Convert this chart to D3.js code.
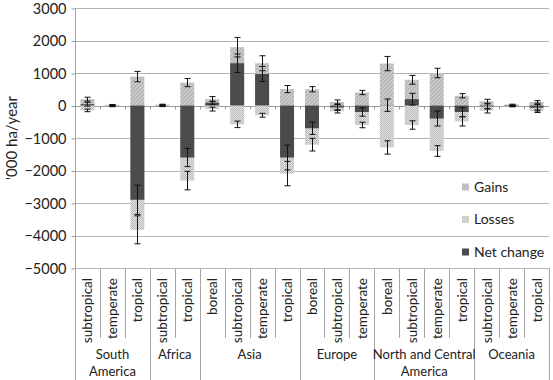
<!DOCTYPE html>
<html>
<head>
<meta charset="utf-8">
<script src="https://cdn.jsdelivr.net/npm/d3@7"></script>
<style>
  body { margin: 0; background: #fff; }
  svg text { font-family: Lato, "Open Sans", sans-serif; fill: #222; }
</style>
</head>
<body>
<div id="chart"></div>
<script>
// Forest area change per region and climatic zone ('000 ha/year)
const regions = ["South America", "South America", "South America", "Africa", "Africa",
    "Asia", "Asia", "Asia", "Asia", "Europe", "Europe", "Europe",
    "North and Central America", "North and Central America", "North and Central America", "North and Central America",
    "Oceania", "Oceania", "Oceania"];
const zones = ["subtropical", "temperate", "tropical", "subtropical", "tropical",
    "boreal", "subtropical", "temperate", "tropical", "boreal", "subtropical", "temperate",
    "boreal", "subtropical", "temperate", "tropical",
    "subtropical", "temperate", "tropical"];
const gains     = [195, 20, 890, 25, 705, 195, 1795, 1300, 505, 500, 110, 400, 1290, 790, 1000, 300, 130, 30, 110];
const gainsErr  = [60, 12, 160, 15, 125, 80, 300, 230, 110, 80, 60, 65, 220, 135, 145, 65, 60, 10, 40];
const losses    = [-150, -25, -3825, -20, -2310, -110, -580, -300, -2095, -1205, -180, -600, -1290, -600, -1400, -490, -160, -30, -175];
const lossesErr = [40, 12, 430, 15, 285, 60, 100, 60, 375, 195, 50, 85, 205, 130, 165, 140, 70, 10, 40];
const netChange = [40, -5, -2900, 5, -1600, 85, 1300, 970, -1600, -700, -60, -200, 10, 195, -400, -200, -30, -15, -70];
const netErr    = [60, 15, 450, 20, 280, 50, 285, 230, 380, 190, 90, 130, 190, 180, 230, 140, 80, 15, 100];
const yTicks = [3000, 2000, 1000, 0, -1000, -2000, -3000, -4000, -5000];
const groupLabels = {
    "South America": ["South", "America"],
    "Africa": ["Africa"],
    "Asia": ["Asia"],
    "Europe": ["Europe"],
    "North and Central America": ["North and Central", "America"],
    "Oceania": ["Oceania"]
};
const legendItems = ["Gains", "Losses", "Net change"];

const W = 553, H = 380;
const plot = {left: 75, right: 549, top: 8, bottom: 268};

let svg = d3.select("#chart").append("svg")
    .attr("width", W)
    .attr("height", H);

// fill patterns
let defs = svg.append("defs");
let pg = defs.append("pattern")
    .attr("id", "gainsFill")
    .attr("patternUnits", "userSpaceOnUse")
    .attr("width", 4).attr("height", 4);
pg.append("rect").attr("width", 4).attr("height", 4).attr("fill", "#bababa");
pg.append("path").attr("d", "M-1,1 L1,-1 M0,4 L4,0 M3,5 L5,3")
    .attr("stroke", "#d4d4d4").attr("stroke-width", 1);

let pl = defs.append("pattern")
    .attr("id", "lossFill")
    .attr("patternUnits", "userSpaceOnUse")
    .attr("width", 2).attr("height", 2);
pl.append("rect").attr("width", 2).attr("height", 2).attr("fill", "#e0e0e0");
pl.append("rect").attr("width", 1).attr("height", 1).attr("fill", "#bdbdbd");
pl.append("rect").attr("x", 1).attr("y", 1).attr("width", 1).attr("height", 1).attr("fill", "#bdbdbd");

const fills = {"Gains": "url(#gainsFill)", "Losses": "url(#lossFill)", "Net change": "#4b4b4b"};

// Scales
let idx = d3.range(zones.length);
let x = d3.scaleBand()
    .domain(idx)
    .range([plot.left, plot.right])
    .padding(0);
let y = d3.scaleLinear()
    .domain([-5000, 3000])
    .range([plot.bottom, plot.top]);

let barW = x.bandwidth() * 0.56;
let cx = i => x(i) + x.bandwidth() / 2;

// gridlines
svg.append("g")
    .selectAll("line")
    .data(yTicks)
    .join("line")
    .attr("x1", plot.left)
    .attr("x2", plot.right)
    .attr("y1", d => Math.round(y(d)) + 0.5)
    .attr("y2", d => Math.round(y(d)) + 0.5)
    .attr("stroke", "#b3b3b3")
    .attr("stroke-width", 1);

// y axis
let yAxisG = svg.append("g")
    .attr("transform", `translate(${plot.left + 0.5},0.5)`)
    .call(d3.axisLeft(y).tickValues(yTicks).tickSize(4).tickPadding(5)
        .tickFormat(d => d < 0 ? "\u2212" + Math.abs(d) : d));
yAxisG.select(".domain").remove();
yAxisG.selectAll(".tick line").attr("stroke", "#999");
yAxisG.selectAll(".tick text")
    .style("font-size", "14.5px")
    .attr("fill", "#222");

svg.append("line")
    .attr("x1", plot.left + 0.5).attr("x2", plot.left + 0.5)
    .attr("y1", plot.top).attr("y2", H)
    .attr("stroke", "#a6a6a6");

svg.append("text")
    .attr("transform", `translate(17,${(plot.top + plot.bottom) / 2}) rotate(-90)`)
    .attr("text-anchor", "middle")
    .style("font-size", "15px")
    .text("'000 ha/year");

// zero axis with minor ticks
let zy = Math.round(y(0)) + 0.5;
svg.append("line")
    .attr("x1", plot.left).attr("x2", plot.right)
    .attr("y1", zy).attr("y2", zy)
    .attr("stroke", "#999");
svg.append("g")
    .selectAll("line")
    .data(idx.slice(1))
    .join("line")
    .attr("x1", i => Math.round(x(i)) + 0.5)
    .attr("x2", i => Math.round(x(i)) + 0.5)
    .attr("y1", zy).attr("y2", zy + 3)
    .attr("stroke", "#999");

// bars
let bars = svg.append("g");
bars.selectAll("rect.gain")
    .data(idx)
    .join("rect")
    .attr("class", "gain")
    .attr("x", i => cx(i) - barW / 2)
    .attr("width", barW)
    .attr("y", i => y(gains[i]))
    .attr("height", i => y(0) - y(gains[i]))
    .attr("fill", fills["Gains"]);
bars.selectAll("rect.loss")
    .data(idx)
    .join("rect")
    .attr("class", "loss")
    .attr("x", i => cx(i) - barW / 2)
    .attr("width", barW)
    .attr("y", y(0))
    .attr("height", i => y(losses[i]) - y(0))
    .attr("fill", fills["Losses"]);
bars.selectAll("rect.net")
    .data(idx)
    .join("rect")
    .attr("class", "net")
    .attr("x", i => cx(i) - barW / 2)
    .attr("width", barW)
    .attr("y", i => y(Math.max(0, netChange[i])))
    .attr("height", i => Math.abs(y(netChange[i]) - y(0)))
    .attr("fill", fills["Net change"]);

// error bars
let errData = [];
idx.forEach(i => {
    errData.push({i: i, v: gains[i], e: gainsErr[i]});
    errData.push({i: i, v: losses[i], e: lossesErr[i]});
    errData.push({i: i, v: netChange[i], e: netErr[i]});
});
let errG = svg.append("g")
    .attr("stroke", "#111")
    .attr("stroke-width", 1);
errData.forEach(d => {
    let xm = Math.round(cx(d.i)) + 0.5;
    let y1 = y(d.v + d.e), y2 = y(d.v - d.e);
    errG.append("line").attr("x1", xm).attr("x2", xm).attr("y1", y1).attr("y2", y2);
    errG.append("line").attr("x1", xm - 3).attr("x2", xm + 3).attr("y1", y1).attr("y2", y1);
    errG.append("line").attr("x1", xm - 3).attr("x2", xm + 3).attr("y1", y2).attr("y2", y2);
});

// category table below the plot
let table = svg.append("g").attr("stroke", "#a6a6a6");
idx.slice(1).forEach(i => {
    let newGroup = regions[i] !== regions[i - 1];
    let xl = Math.round(x(i)) + 0.5;
    table.append("line")
        .attr("x1", xl).attr("x2", xl)
        .attr("y1", plot.bottom).attr("y2", newGroup ? H : 338);
});
table.append("line")
    .attr("x1", plot.right + 0.5).attr("x2", plot.right + 0.5)
    .attr("y1", plot.bottom).attr("y2", H);

svg.append("g")
    .selectAll("text")
    .data(idx)
    .join("text")
    .attr("transform", i => `translate(${cx(i) + 5},${plot.bottom + 10}) rotate(-90)`)
    .attr("text-anchor", "end")
    .style("font-size", "13.5px")
    .text(i => zones[i]);

let groups = Array.from(new Set(regions));
groups.forEach(g => {
    let members = idx.filter(i => regions[i] === g);
    let gx = (x(members[0]) + x(members[members.length - 1]) + x.bandwidth()) / 2;
    let t = svg.append("text")
        .attr("x", gx)
        .attr("y", 359)
        .attr("text-anchor", "middle")
        .style("font-size", "13px");
    groupLabels[g].forEach((line, k) => {
        t.append("tspan").attr("x", gx).attr("dy", k === 0 ? 0 : 16.5).text(line);
    });
});

// legend
let legend = svg.append("g")
    .selectAll("g")
    .data(legendItems)
    .join("g")
    .attr("transform", (d, k) => `translate(462,${187 + k * 32.5})`);
legend.append("rect")
    .attr("x", 0).attr("y", -3.5)
    .attr("width", 7).attr("height", 7)
    .attr("fill", d => fills[d]);
legend.append("text")
    .attr("x", 12)
    .attr("dy", "0.35em")
    .style("font-size", "14px")
    .text(d => d);
</script>
</body>
</html>
